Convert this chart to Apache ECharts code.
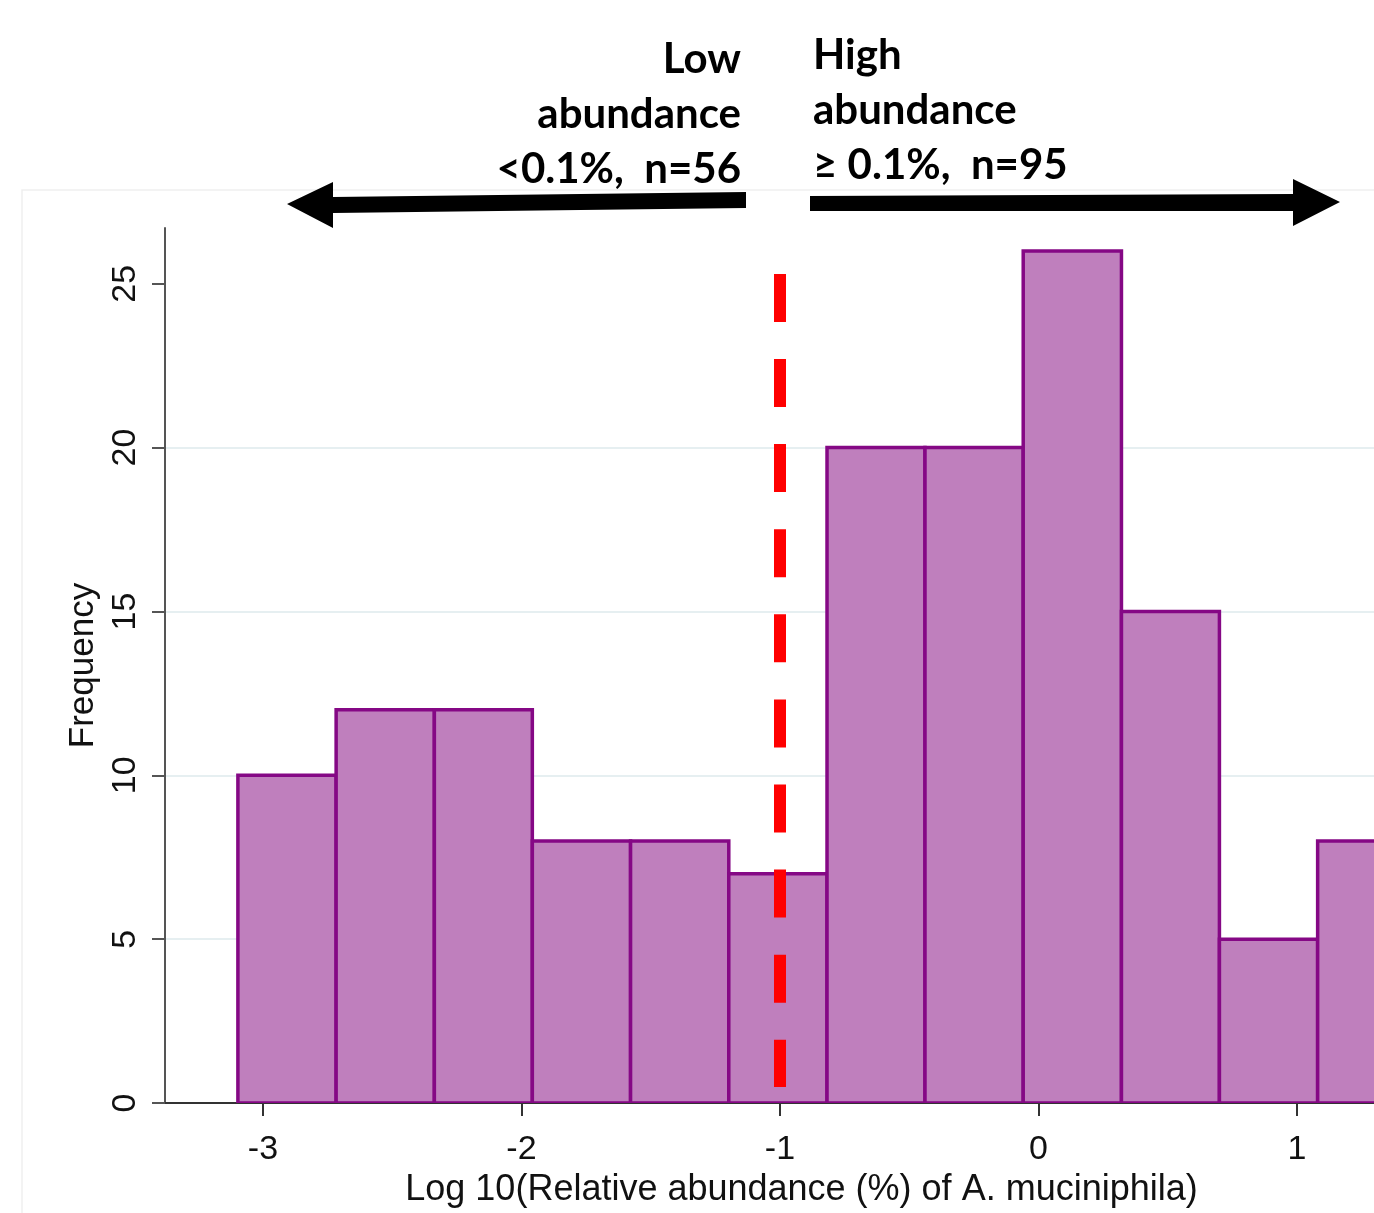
<!DOCTYPE html>
<html>
<head>
<meta charset="utf-8">
<style>
  html, body { margin: 0; padding: 0; background: #fff; }
  #container { width: 1374px; height: 1213px; }
</style>
<script src="https://cdn.jsdelivr.net/npm/echarts@6/dist/echarts.min.js"></script>
</head>
<body>
<div id="container"></div>
<script>
// histogram bins (log10 relative abundance), left edges and right edges
var binStart = [-3.097, -2.717, -2.337, -1.958, -1.578, -1.198, -0.818, -0.439, -0.059, 0.321, 0.700, 1.080];
var binEnd   = [-2.717, -2.337, -1.958, -1.578, -1.198, -0.818, -0.439, -0.059, 0.321, 0.700, 1.080, 1.460];
var counts   = [10, 12, 12, 8, 8, 7, 20, 20, 26, 15, 5, 8];
var xTicks   = [-3, -2, -1, 0, 1];
var yTicks   = [0, 5, 10, 15, 20, 25];
var cutoff   = -1;

window.onload = function () {
    var dom = document.getElementById("container");
    var myChart = echarts.init(dom);

    var data = [];
    for (var i = 0; i < counts.length; i++) {
        data.push([binStart[i], binEnd[i], counts[i]]);
    }

    var axisFont = 'Liberation Sans, Arial, sans-serif';
    var boldFont = 'Lato, Open Sans, sans-serif';

    var option = {
        animation: false,
        backgroundColor: '#fff',
        grid: { left: 165, right: 0, top: 228, bottom: 109 },
        xAxis: {
            type: 'value',
            min: -3.379,
            max: 1.298,
            name: 'Log 10(Relative abundance (%) of A. muciniphila)',
            nameLocation: 'middle',
            nameGap: 58,
            nameTextStyle: { fontFamily: axisFont, fontSize: 36, color: '#111', padding: [0, 0, 0, 64] },
            axisLine: { lineStyle: { color: '#333', width: 2 } },
            axisTick: { customValues: xTicks, length: 13, lineStyle: { color: '#333', width: 2 } },
            axisLabel: { customValues: xTicks, margin: 30, fontFamily: axisFont, fontSize: 34, color: '#111' },
            splitLine: { show: false }
        },
        yAxis: {
            type: 'value',
            min: 0,
            max: 26.7,
            interval: 5,
            name: 'Frequency',
            nameLocation: 'middle',
            nameGap: 63,
            nameTextStyle: { fontFamily: axisFont, fontSize: 35, color: '#111' },
            axisLine: { show: true, onZero: false, lineStyle: { color: '#555', width: 2 } },
            axisTick: { show: true, customValues: yTicks, length: 13, lineStyle: { color: '#555', width: 2 } },
            axisLabel: {
                customValues: yTicks,
                rotate: 90, margin: 22, fontFamily: axisFont, fontSize: 34, color: '#111'
            },
            splitLine: { showMaxLine: false, lineStyle: { color: '#E6EFF1', width: 2 } }
        },
        graphic: [
            {
                type: 'rect', z: -1, silent: true,
                shape: { x: 22, y: 190, width: 1400, height: 1100 },
                style: { fill: 'none', stroke: '#EFEFEF', lineWidth: 1.5 }
            },
            {
                type: 'polygon',
                shape: { points: [[287, 204], [333, 182], [333, 197], [746, 192], [746, 208], [333, 213], [333, 228]] },
                style: { fill: '#000' }
            },
            {
                type: 'polygon',
                shape: { points: [[810, 196], [1293, 194], [1293, 179], [1340, 202], [1293, 226], [1293, 211], [810, 211]] },
                style: { fill: '#000' }
            },
            {
                type: 'text', x: 741, y: 32,
                style: {
                    text: 'Low\nabundance\n<0.1%,  n=56',
                    align: 'right', verticalAlign: 'top',
                    font: 'bold 42px ' + boldFont, lineHeight: 55, fill: '#000'
                }
            },
            {
                type: 'text', x: 813, y: 28,
                style: {
                    text: 'High\nabundance\n\u2265 0.1%,  n=95',
                    align: 'left', verticalAlign: 'top',
                    font: 'bold 42px ' + boldFont, lineHeight: 55, fill: '#000'
                }
            }
        ],
        series: [{
            type: 'custom',
            clip: true,
            data: data,
            renderItem: function (params, api) {
                var p0 = api.coord([api.value(0), 0]);
                var p1 = api.coord([api.value(1), api.value(2)]);
                return {
                    type: 'rect',
                    shape: { x: p0[0], y: p1[1], width: p1[0] - p0[0], height: p0[1] - p1[1] },
                    style: { fill: '#BF7FBD', stroke: '#850885', lineWidth: 3.5 }
                };
            },
            encode: { x: [0, 1], y: 2 },
            markLine: {
                silent: true,
                symbol: 'none',
                label: { show: false },
                lineStyle: { color: '#FF0000', width: 12, type: [48, 37.1], opacity: 1 },
                data: [[{ coord: [cutoff, 25.3] }, { coord: [cutoff, 0.49] }]]
            }
        }]
    };
    myChart.setOption(option);
};
</script>
</body>
</html>
